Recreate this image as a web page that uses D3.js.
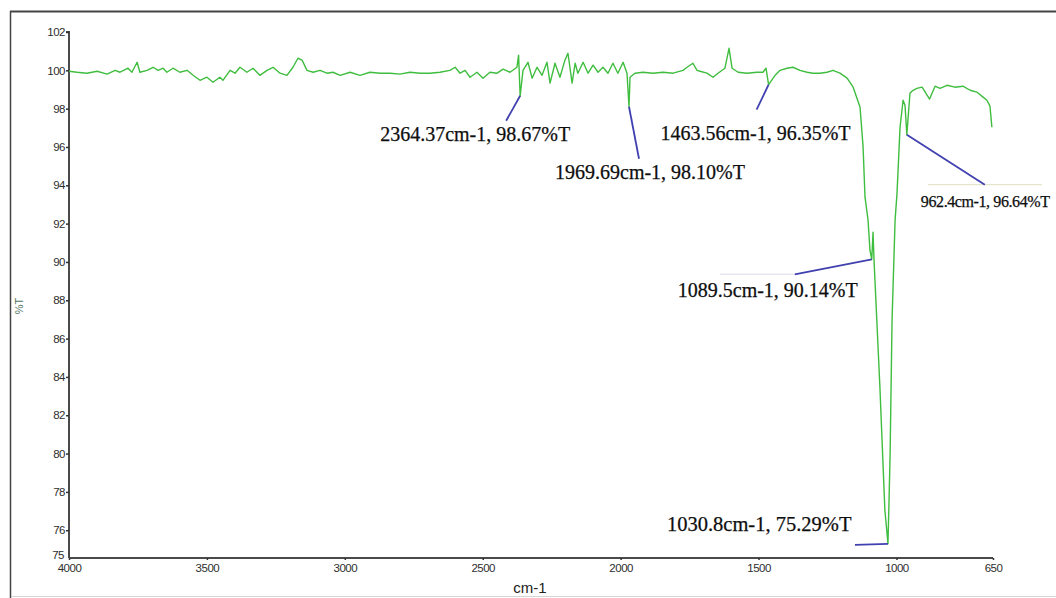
<!DOCTYPE html>
<html>
<head>
<meta charset="utf-8">
<script src="https://cdn.jsdelivr.net/npm/d3@7/dist/d3.min.js"></script>
<style>
  html, body { margin: 0; padding: 0; background: #fff; }
  svg { display: block; }
</style>
</head>
<body>
<svg id="chart" width="1056" height="598"></svg>
<script>
// ---- data (wavenumber in cm-1, transmittance in %T) ----
const wavenumbers = [
  4000, 3971, 3935, 3898, 3862, 3833, 3815, 3786, 3772, 3753, 3743, 3717, 3695, 3677, 3659, 3645,
  3623, 3598, 3572, 3550, 3525, 3500, 3478, 3453, 3442, 3416, 3398, 3380, 3355, 3333, 3308, 3282,
  3260, 3235, 3210, 3188, 3170, 3155, 3137, 3115, 3090, 3065, 3043, 3017, 2981, 2945, 2909, 2872,
  2836, 2800, 2764, 2727, 2691, 2655, 2619, 2600, 2582, 2564, 2546, 2521, 2499, 2474, 2448, 2426,
  2401, 2376, 2370, 2364.37, 2354, 2336, 2321, 2303, 2285, 2267, 2256, 2238, 2220, 2202, 2191, 2176,
  2165, 2155, 2136, 2118, 2100, 2082, 2064, 2046, 2028, 2010, 1991, 1977, 1969.69, 1966, 1948, 1919,
  1883, 1846, 1810, 1774, 1759, 1738, 1723, 1712, 1687, 1665, 1647, 1622, 1607, 1596, 1574, 1542,
  1506, 1484, 1473, 1463.56, 1440, 1422, 1397, 1375, 1350, 1324, 1303, 1277, 1252, 1230, 1205, 1179,
  1157, 1132, 1121, 1114, 1103, 1096, 1089.5, 1085, 1081, 1060, 1042, 1034, 1030.8, 1027, 1023, 1016,
  1005, 998, 987, 976, 969, 962.4, 951, 940, 926, 907, 880, 860, 842, 817, 788, 759,
  733, 708, 686, 672, 661, 654
];
const transmittance = [
  99.95, 99.90, 99.85, 99.95, 99.80, 100.00, 99.90, 100.11, 99.90, 100.42, 99.90, 100.00, 100.16, 100.00, 100.11, 99.90,
  100.11, 99.90, 100.00, 99.74, 99.48, 99.64, 99.38, 99.64, 99.48, 100.00, 99.85, 100.16, 99.90, 100.11, 99.74, 100.00,
  100.16, 99.85, 99.74, 100.16, 100.63, 100.53, 100.00, 99.90, 100.00, 99.85, 99.90, 99.74, 99.90, 99.74, 99.90, 99.85,
  99.85, 99.80, 99.90, 99.85, 99.85, 99.90, 100.00, 100.16, 99.85, 100.00, 99.64, 99.90, 99.59, 99.90, 99.85, 100.06,
  99.90, 100.16, 100.79, 98.67, 100.00, 100.42, 99.59, 100.16, 99.74, 100.42, 99.33, 100.37, 99.64, 100.53, 100.89, 99.33,
  100.37, 99.85, 100.42, 99.85, 100.27, 99.90, 100.16, 99.85, 100.37, 99.85, 100.42, 99.85, 98.10, 99.64, 99.85, 99.90,
  99.85, 99.90, 99.85, 100.00, 100.16, 100.37, 100.00, 99.95, 99.85, 99.64, 99.85, 100.11, 101.15, 100.11, 99.90, 99.85,
  99.90, 99.90, 100.11, 99.25, 99.74, 100.00, 100.11, 100.16, 100.00, 99.90, 99.85, 99.85, 99.90, 100.00, 99.85, 99.59,
  99.12, 98.07, 95.99, 93.38, 92.18, 90.60, 90.14, 91.55, 89.98, 83.46, 77.04, 75.80, 75.29, 77.50, 80.00, 86.96,
  92.18, 93.58, 97.03, 98.44, 98.18, 96.64, 98.80, 98.96, 99.06, 99.12, 98.50, 99.17, 99.06, 99.22, 99.12, 99.17,
  98.96, 98.86, 98.60, 98.44, 98.13, 97.03
];

// tick labels
const xTicks = [4000, 3500, 3000, 2500, 2000, 1500, 1000, 650];
const yTicks = [75, 76, 78, 80, 82, 84, 86, 88, 90, 92, 94, 96, 98, 100, 102];
const xTitle = "cm-1";
const yTitle = "%T";

// peak annotations: where the leader leaves the curve and the printed text
const peakWn = [2364.37, 1969.69, 1463.56, 1089.5, 1030.8, 962.4];
const peakT = [98.67, 98.10, 99.25, 90.14, 75.29, 96.64];
const peakText = [
  "2364.37cm-1, 98.67%T",
  "1969.69cm-1, 98.10%T",
  "1463.56cm-1, 96.35%T",
  "1089.5cm-1, 90.14%T",
  "1030.8cm-1, 75.29%T",
  "962.4cm-1, 96.64%T"
];

// ---- layout ----
const svg = d3.select("#chart");
const x = d3.scaleLinear().domain([4000, 650]).range([69, 993]);
const y = d3.scaleLinear().domain([74.55, 102]).range([558, 32]);

// outer frame
svg.append("line").attr("x1", 10.5).attr("x2", 10.5).attr("y1", 11).attr("y2", 598)
  .attr("stroke", "#444").attr("stroke-width", 1.5);
svg.append("line").attr("x1", 10).attr("x2", 1056).attr("y1", 11.5).attr("y2", 11.5)
  .attr("stroke", "#444").attr("stroke-width", 1.8);
svg.append("line").attr("x1", 11).attr("x2", 1056).attr("y1", 596.5).attr("y2", 596.5)
  .attr("stroke", "#d4d4d4").attr("stroke-width", 1);

// axes
const tickFont = "'Liberation Sans', Arial, sans-serif";
const yAxis = d3.axisLeft(y).tickValues(yTicks.slice(1)).tickSize(3).tickPadding(1).tickFormat(d3.format("d"));
const gy = svg.append("g").attr("transform", "translate(69,0)").call(yAxis);
gy.select(".domain").attr("d", `M-3,${y(102)}H0V${y.range()[0]}`);
// bottom label sits at axis foot
gy.append("text").attr("x", -5).attr("y", y.range()[0] - 3).attr("dy", "0.32em")
  .attr("text-anchor", "end").text(yTicks[0]);

const xAxis = d3.axisBottom(x).tickValues(xTicks).tickSize(2).tickPadding(4).tickFormat(d3.format("d"));
const gx = svg.append("g").attr("transform", `translate(0,${y.range()[0]})`).call(xAxis);
gx.select(".domain").attr("d", `M${x.range()[0]},0H${x.range()[1]}`);

[gx, gy].forEach(g => {
  g.select(".domain").attr("stroke", "#4a4a4a").attr("stroke-width", 2).attr("fill", "none");
  g.selectAll(".tick line").attr("stroke", "#333").attr("stroke-width", 1.5);
  g.selectAll("text").attr("font-family", tickFont).attr("font-size", 11.5)
    .attr("fill", "#2e2e2e").attr("letter-spacing", "-0.5");
});
gy.selectAll(".tick text").attr("x", -4);

// axis titles
svg.append("text").attr("x", 530).attr("y", 593).attr("text-anchor", "middle")
  .attr("font-family", tickFont).attr("font-size", 15).attr("fill", "#222").text(xTitle);
svg.append("text").attr("transform", "translate(23,306) rotate(-90)").attr("text-anchor", "middle")
  .attr("font-family", tickFont).attr("font-size", 11).attr("fill", "#4f7560").text(yTitle);

// spectrum
const pts = wavenumbers.map((w, i) => [w, transmittance[i]]);
const line = d3.line().x(d => x(d[0])).y(d => y(d[1]));
svg.append("path").datum(pts).attr("d", line).attr("fill", "none")
  .attr("stroke", "#3fbd3f").attr("stroke-width", 1.4).attr("stroke-linejoin", "round");

// annotations: leader end offsets (px), text position offsets (px), font sizes
const leaderEnd = [[-14, 25], [10, 52], [-12, 25], [-77, 15], [-33, 1], [78, 50]];
const faintEnd = [null, null, null, [-152, 15], null, [135, 50]];
const faintStart = [null, null, null, [-77, 15], null, [21, 50]];
const textPos = [[-140, 45], [-74, 72], [-108, 55], [-194, 38], [-221, -13], [14, 72]];
const textSize = [20, 20, 20, 20, 20.5, 16];

const ann = svg.append("g");
peakWn.forEach((w, i) => {
  const px = x(w), py = y(peakT[i]);
  if (faintEnd[i]) {
    ann.append("line")
      .attr("x1", px + faintStart[i][0]).attr("y1", py + faintStart[i][1])
      .attr("x2", px + faintEnd[i][0]).attr("y2", py + faintEnd[i][1])
      .attr("stroke", i === 5 ? "#e6e6cc" : "#dcdcea").attr("stroke-width", 1.2);
  }
  ann.append("line")
    .attr("x1", px).attr("y1", py)
    .attr("x2", px + leaderEnd[i][0]).attr("y2", py + leaderEnd[i][1])
    .attr("stroke", "#4040b0").attr("stroke-width", 1.8);
  ann.append("text")
    .attr("x", px + textPos[i][0]).attr("y", py + textPos[i][1])
    .attr("font-family", "'Liberation Serif', 'Times New Roman', serif")
    .attr("font-size", textSize[i])
    .attr("letter-spacing", i === 5 ? "-0.4" : "0")
    .attr("fill", "#0e0e0e")
    .attr("stroke", "#0e0e0e").attr("stroke-width", 0.25)
    .text(peakText[i]);
});
</script>
</body>
</html>
